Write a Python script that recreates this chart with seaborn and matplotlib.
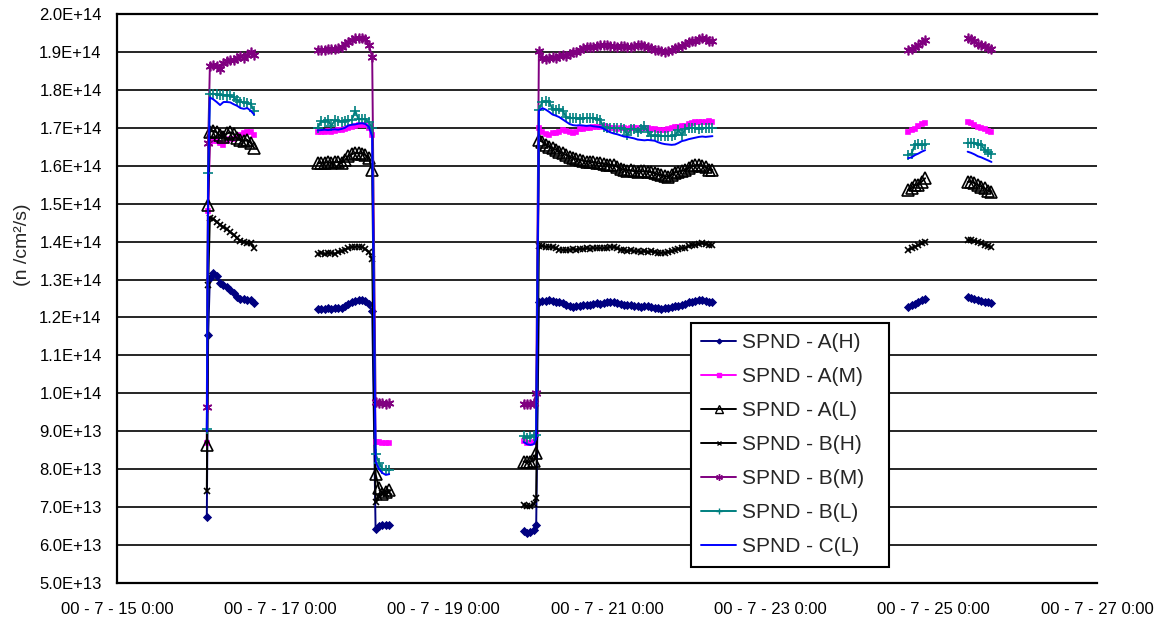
import numpy as np
import pandas as pd
import matplotlib
matplotlib.use("Agg")
import matplotlib.pyplot as plt
import matplotlib.dates as mdates
from matplotlib.lines import Line2D
from matplotlib.ticker import FuncFormatter, MultipleLocator
import seaborn as sns

# sample times, hours after 00-7-15 0:00, one list per measuring run
hours_run1 = [26.4, 26.8] + [27.3 + k for k in range(14)]
hours_run2 = [59 + k for k in range(22)]
hours_run3 = [119.5, 120.5, 121.5, 122.5, 123.2] + [124 + k for k in range(52)]
hours_run4 = [232.5 + k for k in range(6)]
hours_run5 = [250 + k for k in range(8)]

series_names = ["SPND - A(H)", "SPND - A(M)", "SPND - A(L)", "SPND - B(H)",
                "SPND - B(M)", "SPND - B(L)", "SPND - C(L)"]

# values in units of 1E+14 n/cm2/s
a_h = ([0.675, 1.153, 1.305, 1.318, 1.31, 1.29, 1.285, 1.28, 1.272, 1.265, 1.255, 1.25, 1.248, 1.245, 1.247, 1.238]
       + [1.222, 1.223, 1.222, 1.224, 1.223, 1.225, 1.226, 1.226, 1.229, 1.235, 1.24, 1.243, 1.247, 1.245, 1.243, 1.235, 1.218,
          0.643, 0.65, 0.652, 0.653, 0.654]
       + [0.636, 0.633, 0.634, 0.64, 0.653,
          1.242, 1.243, 1.244, 1.245, 1.243, 1.242, 1.241, 1.237, 1.232, 1.229, 1.228, 1.229, 1.231, 1.232, 1.234, 1.233,
          1.235, 1.237, 1.236, 1.238, 1.24, 1.242, 1.241, 1.239, 1.236, 1.233, 1.232, 1.234, 1.231, 1.229, 1.228, 1.23,
          1.229, 1.228, 1.226, 1.224, 1.223, 1.225, 1.226, 1.228, 1.229, 1.231, 1.233, 1.236, 1.24, 1.242, 1.244, 1.246,
          1.245, 1.244, 1.242, 1.241]
       + [1.228, 1.232, 1.236, 1.24, 1.245, 1.25]
       + [1.254, 1.252, 1.25, 1.247, 1.244, 1.242, 1.24, 1.238])

a_m = ([0.87, 1.48, 1.66, 1.665, 1.665, 1.66, 1.655, 1.665, 1.67, 1.67, 1.675, 1.68, 1.685, 1.69, 1.69, 1.68]
       + [1.688, 1.69, 1.69, 1.692, 1.69, 1.692, 1.695, 1.693, 1.697, 1.7, 1.703, 1.705, 1.707, 1.708, 1.707, 1.7, 1.68,
          0.873, 0.872, 0.87, 0.87, 0.87]
       + [0.875, 0.868, 0.87, 0.872, 0.89,
          1.7, 1.69, 1.683, 1.682, 1.685, 1.686, 1.69, 1.694, 1.692, 1.688, 1.687, 1.69, 1.696, 1.698, 1.699, 1.7,
          1.701, 1.703, 1.702, 1.704, 1.703, 1.7, 1.699, 1.698, 1.7, 1.699, 1.698, 1.699, 1.7, 1.699, 1.698, 1.7,
          1.699, 1.697, 1.696, 1.694, 1.693, 1.694, 1.696, 1.699, 1.702, 1.703, 1.704, 1.706, 1.71, 1.712, 1.714, 1.715,
          1.716, 1.715, 1.717, 1.716]
       + [1.69, 1.693, 1.698, 1.705, 1.71, 1.713]
       + [1.715, 1.713, 1.708, 1.703, 1.7, 1.697, 1.692, 1.69])

a_l = ([0.865, 1.496, 1.69, 1.692, 1.688, 1.68, 1.675, 1.685, 1.688, 1.683, 1.672, 1.668, 1.665, 1.668, 1.66, 1.647]
       + [1.606, 1.608, 1.607, 1.61, 1.606, 1.609, 1.61, 1.607, 1.615, 1.625, 1.63, 1.634, 1.633, 1.632, 1.628, 1.62, 1.59,
          0.787, 0.75, 0.735, 0.74, 0.745]
       + [0.82, 0.818, 0.82, 0.822, 0.842,
          1.668, 1.663, 1.655, 1.65, 1.646, 1.642, 1.637, 1.633, 1.628, 1.624, 1.62, 1.617, 1.615, 1.613, 1.611, 1.61,
          1.609, 1.607, 1.606, 1.605, 1.603, 1.602, 1.601, 1.597, 1.592, 1.589, 1.587, 1.588, 1.585, 1.584, 1.586, 1.585,
          1.584, 1.583, 1.58, 1.577, 1.575, 1.572, 1.571, 1.576, 1.582, 1.584, 1.586, 1.589, 1.594, 1.598, 1.601, 1.602,
          1.6, 1.596, 1.59, 1.589]
       + [1.536, 1.54, 1.55, 1.548, 1.558, 1.567]
       + [1.557, 1.558, 1.554, 1.548, 1.545, 1.54, 1.534, 1.532])

b_h = ([0.742, 1.285, 1.463, 1.46, 1.452, 1.445, 1.438, 1.432, 1.425, 1.418, 1.41, 1.402, 1.398, 1.397, 1.395, 1.383]
       + [1.368, 1.37, 1.367, 1.369, 1.37, 1.368, 1.372, 1.375, 1.379, 1.383, 1.385, 1.386, 1.387, 1.386, 1.38, 1.373, 1.354,
          0.713, 0.728, 0.738, 0.735, 0.74]
       + [0.706, 0.703, 0.702, 0.707, 0.723,
          1.388, 1.389, 1.386, 1.387, 1.385, 1.382, 1.379, 1.378, 1.377, 1.379, 1.38, 1.379, 1.381, 1.38, 1.382, 1.381,
          1.383, 1.382, 1.383, 1.382, 1.384, 1.386, 1.385, 1.382, 1.379, 1.377, 1.376, 1.377, 1.375, 1.374, 1.373, 1.374,
          1.373, 1.374, 1.372, 1.371, 1.37, 1.371, 1.372, 1.375, 1.378, 1.38, 1.382, 1.384, 1.388, 1.39, 1.392, 1.394,
          1.395, 1.393, 1.391, 1.39]
       + [1.378, 1.382, 1.386, 1.39, 1.395, 1.4]
       + [1.405, 1.404, 1.402, 1.398, 1.395, 1.392, 1.388, 1.386])

b_m = ([0.963, 1.66, 1.862, 1.865, 1.862, 1.855, 1.87, 1.875, 1.88, 1.878, 1.885, 1.888, 1.885, 1.893, 1.9, 1.892]
       + [1.905, 1.904, 1.906, 1.907, 1.908, 1.908, 1.91, 1.912, 1.92, 1.927, 1.932, 1.936, 1.937, 1.936, 1.933, 1.918, 1.887,
          0.976, 0.974, 0.975, 0.973, 0.974]
       + [0.972, 0.973, 0.972, 0.975, 1.0,
          1.903, 1.885, 1.882, 1.884, 1.886, 1.885, 1.888, 1.892, 1.89, 1.895, 1.899, 1.9, 1.905, 1.91, 1.912, 1.914,
          1.913, 1.916, 1.918, 1.917, 1.918, 1.916, 1.915, 1.914, 1.916, 1.915, 1.914, 1.913, 1.915, 1.917, 1.918, 1.916,
          1.914, 1.91, 1.906, 1.905, 1.903, 1.901, 1.902, 1.905, 1.91, 1.913, 1.916, 1.92, 1.926, 1.929, 1.93, 1.934,
          1.936, 1.933, 1.93, 1.928]
       + [1.905, 1.908, 1.913, 1.918, 1.925, 1.932]
       + [1.937, 1.935, 1.928, 1.922, 1.918, 1.915, 1.91, 1.908])

b_l = ([0.905, 1.58, 1.788, 1.79, 1.788, 1.786, 1.787, 1.785, 1.786, 1.78, 1.772, 1.768, 1.768, 1.765, 1.762, 1.745]
       + [1.70, 1.718, 1.716, 1.72, 1.705, 1.72, 1.719, 1.716, 1.718, 1.72, 1.72, 1.745, 1.722, 1.723, 1.722, 1.715, 1.70,
          0.84, 0.817, 0.80, 0.797, 0.798]
       + [0.887, 0.883, 0.885, 0.888, 0.89,
          1.748, 1.768, 1.77, 1.768, 1.75, 1.748, 1.749, 1.745, 1.728, 1.725, 1.726, 1.725, 1.724, 1.725, 1.726, 1.725,
          1.726, 1.724, 1.72, 1.702, 1.7, 1.699, 1.7, 1.699, 1.7, 1.698, 1.68, 1.697, 1.698, 1.69, 1.697, 1.705,
          1.69, 1.678, 1.68, 1.678, 1.679, 1.678, 1.679, 1.678, 1.68, 1.695, 1.68, 1.698, 1.699, 1.7, 1.699, 1.698,
          1.7, 1.699, 1.7, 1.699]
       + [1.628, 1.632, 1.655, 1.656, 1.654, 1.656]
       + [1.66, 1.661, 1.66, 1.656, 1.655, 1.642, 1.635, 1.63])

c_l = ([0.90, 1.57, 1.78, 1.775, 1.768, 1.76, 1.768, 1.768, 1.767, 1.762, 1.758, 1.752, 1.75, 1.752, 1.745, 1.735]
       + [1.693, 1.694, 1.695, 1.694, 1.695, 1.696, 1.695, 1.697, 1.7, 1.706, 1.708, 1.709, 1.711, 1.712, 1.71, 1.703, 1.677,
          0.82, 0.80, 0.79, 0.785, 0.787]
       + [0.872, 0.866, 0.864, 0.866, 0.88,
          1.745, 1.752, 1.748, 1.742, 1.735, 1.732, 1.728, 1.722, 1.716, 1.71, 1.707, 1.706, 1.707, 1.706, 1.705, 1.706,
          1.704, 1.703, 1.702, 1.698, 1.692, 1.688, 1.685, 1.683, 1.68, 1.677, 1.676, 1.674, 1.672, 1.669, 1.668, 1.667,
          1.668, 1.667, 1.666, 1.662, 1.659, 1.657, 1.656, 1.655, 1.656, 1.66, 1.665, 1.667, 1.67, 1.672, 1.674, 1.676,
          1.677, 1.676, 1.677, 1.678]
       + [1.62, 1.622, 1.628, 1.632, 1.637, 1.641]
       + [1.637, 1.634, 1.63, 1.625, 1.622, 1.618, 1.614, 1.61])

colors = ["#000080", "#FF00FF", "#000000", "#000000", "#800080", "#008080", "#0000FF"]
markers = ["D", "s", "^", "x", (6, 2, 0), "+", ""]
marker_sizes = [3.5, 3.5, 8, 5, 7, 7, 0]
marker_faces = ["#000080", "#FF00FF", "none", "#000000", "#800080", "#008080", "#0000FF"]

# long-form table, one "run" id per block of continuous measurements
runs = [hours_run1, hours_run2, hours_run3, hours_run4, hours_run5]
hours = [h for r in runs for h in r]
run_id = [i for i, r in enumerate(runs) for _ in r]
base = pd.Timestamp("2000-07-15 00:00")
frames = []
for name, vals in zip(series_names, [a_h, a_m, a_l, b_h, b_m, b_l, c_l]):
    frames.append(pd.DataFrame({
        "time": base + pd.to_timedelta(hours, unit="h"),
        "flux": np.array(vals) * 1e14,
        "run": run_id,
        "series": name,
    }))
df = pd.concat(frames, ignore_index=True)

sns.set_style("white")
plt.rcParams["font.family"] = ["Liberation Sans", "DejaVu Sans"]

fig = plt.figure(figsize=(11.64, 6.25), dpi=100)
ax = fig.add_axes([0.1005, 0.0672, 0.8419, 0.9104])

for name, c, m, ms, mf in zip(series_names, colors, markers, marker_sizes, marker_faces):
    sub = df[df["series"] == name]
    sns.lineplot(data=sub, x="time", y="flux", units="run", estimator=None,
                 color=c, marker=m if m else None, markersize=ms, markerfacecolor=mf,
                 markeredgecolor=c, markeredgewidth=1.2, linewidth=1.4,
                 ax=ax, legend=False, sort=False)

ax.set_ylim(5e13, 2e14)
ax.yaxis.set_major_locator(MultipleLocator(1e13))
ax.yaxis.set_major_formatter(FuncFormatter(lambda v, p: f"{v:.1E}"))
ax.grid(axis="y", color="black", linewidth=1.2)
ax.grid(axis="x", visible=False)

ax.set_xlim(pd.Timestamp("2000-07-15"), pd.Timestamp("2000-07-27"))
ax.set_xticks(pd.date_range("2000-07-15", "2000-07-27", freq="2D"))


def fmt_date(v, p):
    d = mdates.num2date(v)
    return f"{d.year % 100:02d} - {d.month} - {d.day} {d.hour}:{d.minute:02d}"


ax.xaxis.set_major_formatter(FuncFormatter(fmt_date))
ax.tick_params(axis="both", direction="in", length=6, width=1.2, color="black",
               labelsize=12, labelcolor="black")
ax.tick_params(axis="x", pad=14)
ax.tick_params(axis="y", pad=11)

for side in ["left", "bottom", "top"]:
    ax.spines[side].set_visible(True)
    ax.spines[side].set_color("black")
    ax.spines[side].set_linewidth(1.6)
ax.spines["right"].set_visible(False)

ax.set_xlabel("")
ax.set_ylabel("(n /cm²/s)", fontsize=14)
ax.yaxis.set_label_coords(-0.088, 0.594)

handles = [Line2D([0], [0], color=c, marker=m if m else None, markersize=ms * 0.7,
                  markerfacecolor=mf, markeredgecolor=c, linewidth=1.4)
           for c, m, ms, mf in zip(colors, markers, marker_sizes, marker_faces)]
leg = ax.legend(handles, series_names, loc="upper left",
                bbox_to_anchor=(0.5857, 0.0, 0.202, 0.457), mode="expand",
                borderaxespad=0, fontsize=15, frameon=True, fancybox=False,
                framealpha=1, edgecolor="black", handlelength=1.65,
                handletextpad=0.3, labelspacing=0.72, borderpad=0.5)
leg.get_frame().set_linewidth(1.5)

fig.savefig("out.png", dpi=100)
